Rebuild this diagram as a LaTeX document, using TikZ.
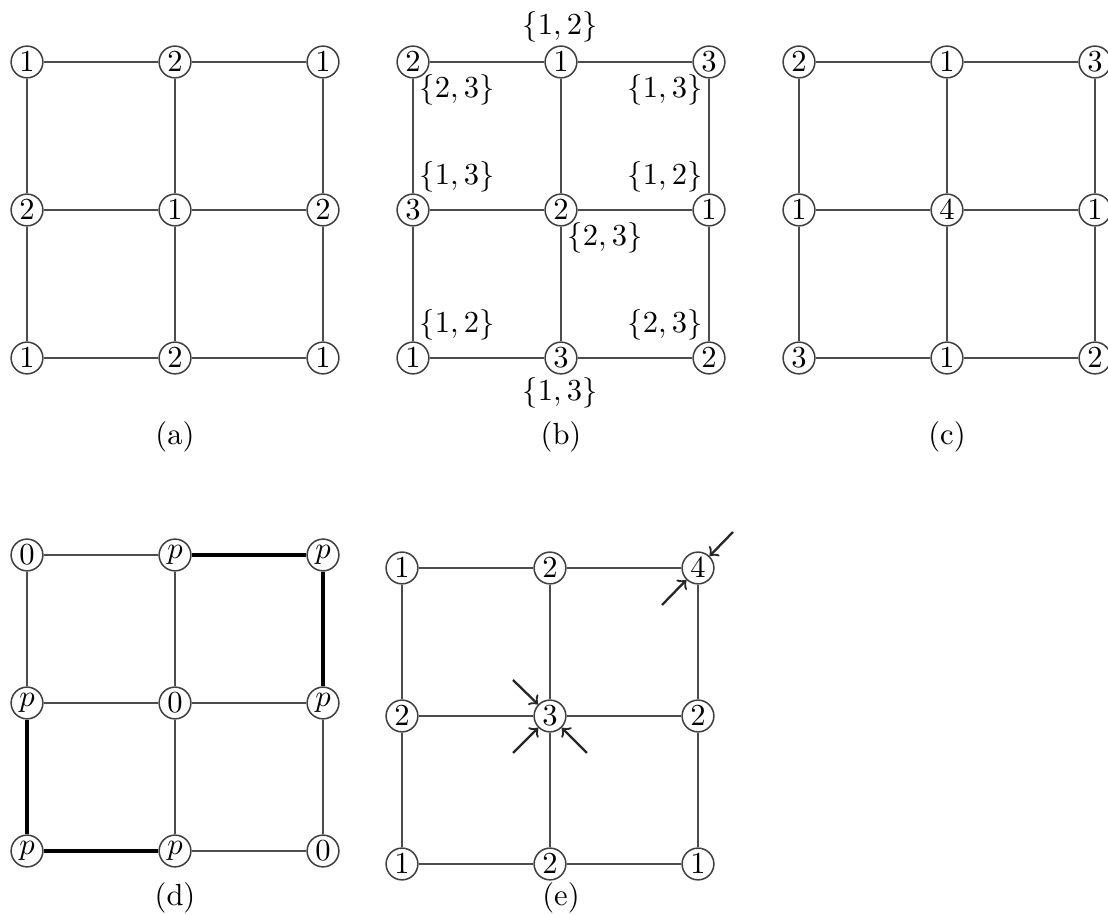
\documentclass[tikz,border=0pt]{standalone}
\begin{document}
\begin{tikzpicture}[x=0.0115cm,y=-0.0115cm,
  vtx/.style={circle, draw=black!75, line width=0.5pt, fill=white, inner sep=0.5pt, minimum size=10.4pt},
  gridline/.style={black!70, line width=0.55pt},
  heavy/.style={black, line width=1.5pt},
  push/.style={->, black!85, line width=0.75pt},
  setlbl/.style={inner sep=0pt}]
\useasboundingbox (0,0) rectangle (1108,915);
\def\cell{148} % pas de la grille en px

% (a)
\foreach \lab [count=\i from 0] in {1,2,1,2,1,2,1,2,1}
  \node[vtx] (a\i) at ({27+mod(\i,3)*\cell},{62+div(\i,3)*\cell}) {$\lab$};
% (b)
\foreach \lab [count=\i from 0] in {2,1,3,3,2,1,1,3,2}
  \node[vtx] (b\i) at ({413+mod(\i,3)*\cell},{62+div(\i,3)*\cell}) {$\lab$};
% (c)
\foreach \lab [count=\i from 0] in {2,1,3,1,4,1,3,1,2}
  \node[vtx] (c\i) at ({799+mod(\i,3)*\cell},{62+div(\i,3)*\cell}) {$\lab$};
% (d)
\foreach \lab [count=\i from 0] in {0,p,p,p,0,p,p,p,0}
  \node[vtx] (d\i) at ({27+mod(\i,3)*\cell},{555+div(\i,3)*\cell}) {$\lab$};
% (e)
\foreach \lab [count=\i from 0] in {1,2,4,2,3,2,1,2,1}
  \node[vtx] (e\i) at ({402+mod(\i,3)*\cell},{568+div(\i,3)*\cell}) {$\lab$};

% aretes
\foreach \p in {a,b,c,d,e}
  \foreach \i/\j in {0/1,1/2,3/4,4/5,6/7,7/8,0/3,3/6,1/4,4/7,2/5,5/8}
    \draw[gridline] (\p\i) -- (\p\j);
\draw[heavy] (d1) -- (d2) -- (d5);
\draw[heavy] (d3) -- (d6) -- (d7);

% ensembles de (b)
\node[setlbl] (s1) at (560,27) {$\{1,2\}$};
\node[setlbl] (s2) at (457,90) {$\{2,3\}$};
\node[setlbl] (s3) at (665,90) {$\{1,3\}$};
\node[setlbl] (s4) at (457,177) {$\{1,3\}$};
\node[setlbl] (s5) at (665,177) {$\{1,2\}$};
\node[setlbl] (s6) at (605,238) {$\{2,3\}$};
\node[setlbl] (s7) at (457,325) {$\{1,2\}$};
\node[setlbl] (s8) at (665,325) {$\{2,3\}$};
\node[setlbl] (s9) at (560,393) {$\{1,3\}$};

% fleches de (e)
\coordinate (q1) at ([shift={(35,-36)}]e2);
\coordinate (q2) at ([shift={(-36,37)}]e2);
\coordinate (q3) at ([shift={(-37,-36)}]e4);
\coordinate (q4) at ([shift={(-37,37)}]e4);
\coordinate (q5) at ([shift={(37,37)}]e4);
\foreach \q/\v in {q1/e2,q2/e2,q3/e4,q4/e4,q5/e4}
  \draw[push] (\q) -- (\v);

% legendes
\node (capa) at (175,437) {(a)};
\node (capb) at (561,437) {(b)};
\node (capc) at (947,437) {(c)};
\node (capd) at (175,898) {(d)};
\node (cape) at (561,898) {(e)};

\end{tikzpicture}
\end{document}
